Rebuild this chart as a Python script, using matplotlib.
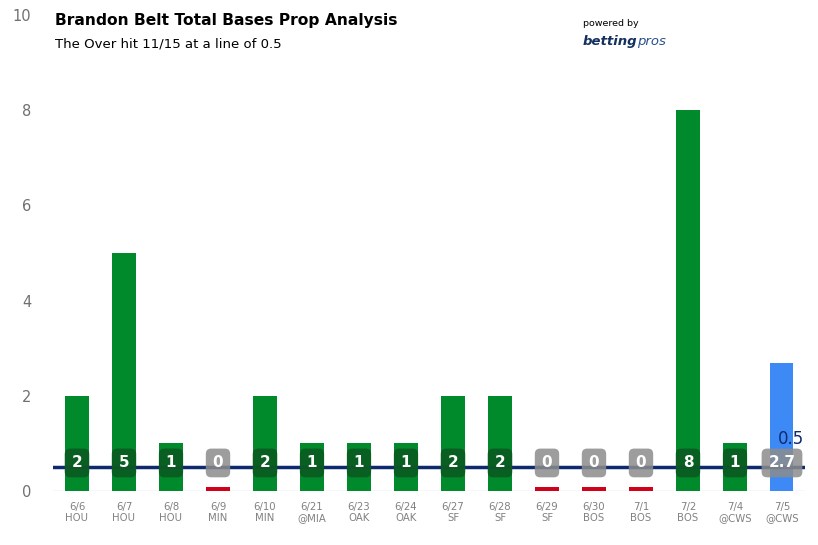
import matplotlib.pyplot as plt

dates = ['6/6', '6/7', '6/8', '6/9', '6/10', '6/21', '6/23', '6/24',
         '6/27', '6/28', '6/29', '6/30', '7/1', '7/2', '7/4', '7/5']
opponents = ['HOU', 'HOU', 'HOU', 'MIN', 'MIN', '@MIA', 'OAK', 'OAK',
             'SF', 'SF', 'SF', 'BOS', 'BOS', 'BOS', '@CWS', '@CWS']
total_bases = [2, 5, 1, 0, 2, 1, 1, 1, 2, 2, 0, 0, 0, 8, 1, 2.7]
is_projection = [False] * 15 + [True]
prop_line = 0.5

GREEN = '#008a2b'
RED = '#d0021b'
BLUE = '#3d8af7'
NAVY = '#0e2a6e'

fig = plt.figure(figsize=(8.18, 5.45), dpi=100)
ax = fig.add_axes([0.0654, 0.099, 0.9193, 0.8734])

x = list(range(len(dates)))
heights = []
colors = []
for v, proj in zip(total_bases, is_projection):
    if proj:
        heights.append(v)
        colors.append(BLUE)
    elif v == 0:
        heights.append(0.08)
        colors.append(RED)
    else:
        heights.append(v)
        colors.append(GREEN)

ax.bar(x, heights, width=0.49, color=colors, zorder=2)
ax.axhline(prop_line, color=NAVY, lw=2.5, zorder=4)
ax.axhline(0, color='#d5dbe8', lw=1, zorder=1)

# value labels in rounded boxes
for xi, v, proj in zip(x, total_bases, is_projection):
    if proj or v == 0:
        fc, alpha = '#8c8c8c', 0.85
    else:
        fc, alpha = '#0b5a20', 0.9
    ax.text(xi, 0.59, f'{v:g}', ha='center', va='center', color='white',
            fontsize=11, fontweight='bold', zorder=5,
            bbox=dict(boxstyle='round,pad=0.45,rounding_size=0.35',
                      fc=fc, ec='none', alpha=alpha))

ax.text(15.48, 0.9, '0.5', color=NAVY, fontsize=12, ha='right', va='bottom', zorder=6)

ax.set_xlim(-0.5, 15.5)
ax.set_ylim(0, 10)
ax.set_yticks([0, 2, 4, 6, 8, 10])
ax.set_xticks(x)
ax.set_xticklabels([f'{d}\n{o}' for d, o in zip(dates, opponents)],
                   fontsize=7.3, color='#808080', linespacing=1.15)
ax.tick_params(axis='y', colors='#707070', labelsize=10.5, length=0, pad=16)
ax.tick_params(axis='x', length=0, pad=8)
for s in ax.spines.values():
    s.set_visible(False)

fig.text(0.067, 0.962, 'Brandon Belt Total Bases Prop Analysis', fontsize=11.2,
         fontweight='bold', va='center')
fig.text(0.067, 0.92, 'The Over hit 11/15 at a line of 0.5', fontsize=9.5, va='center')
fig.text(0.713, 0.957, 'powered by', fontsize=6.8, va='center')
t = fig.text(0.712, 0.924, 'betting', fontsize=9.5, fontweight='bold', style='italic',
             color='#14305f', va='center')
fig.add_artist(plt.Annotation('pros', xy=(1, 0.5), xycoords=t, va='center', ha='left',
                              fontsize=9.5, style='italic', color='#2a4f8a'))

fig.savefig('out.png', dpi=100)
